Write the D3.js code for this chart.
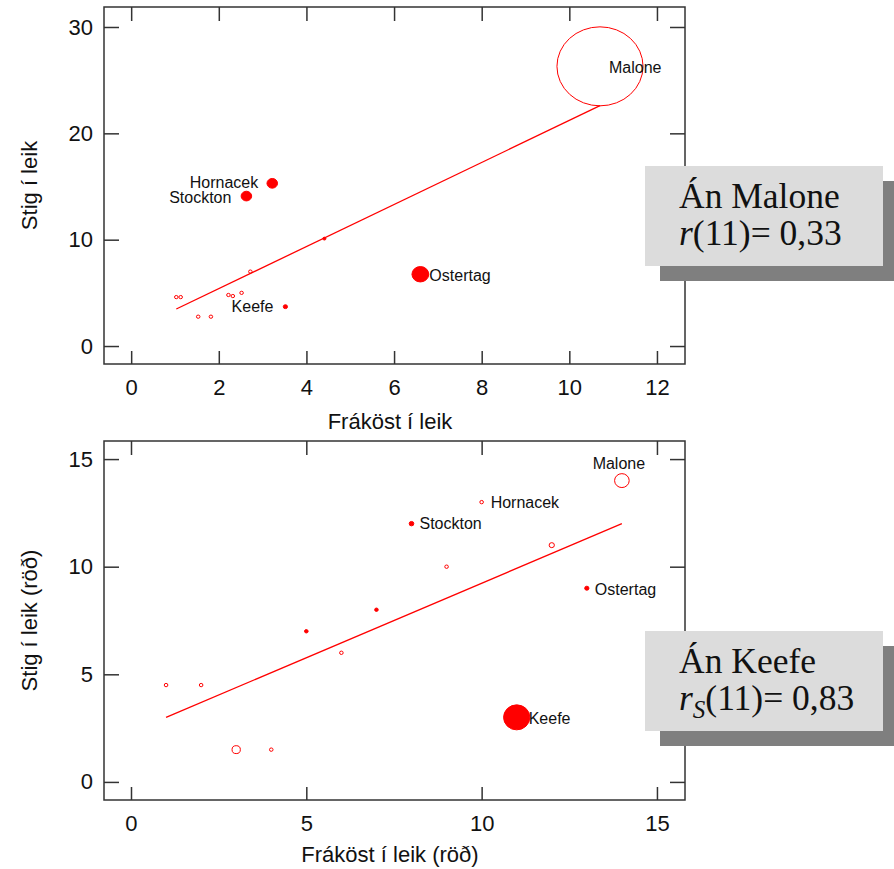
<!DOCTYPE html>
<html>
<head>
<meta charset="utf-8">
<script src="https://cdn.jsdelivr.net/npm/d3@7"></script>
<style>
  body { margin: 0; background: #fff; }
  svg { display: block; }
  .tick text { font-family: "Liberation Sans", Arial, sans-serif; font-size: 22px; fill: #111; }
  .tick line { stroke: #333; stroke-width: 1.5; }
  .domain { display: none; }
  .ttl { font-family: "Liberation Sans", Arial, sans-serif; font-size: 22px; fill: #111; }
  .lbl { font-family: "Liberation Sans", Arial, sans-serif; font-size: 16px; fill: #111; }
  .box { font-family: "Liberation Serif", "Times New Roman", serif; font-size: 35.5px; fill: #111; }
</style>
</head>
<body>
<svg id="chart" width="894" height="869"></svg>
<script>
// leikmenn (13 + einn)
var names = ['Malone', 'Ostertag', 'Hornacek', 'Stockton', 'Keefe', '', '', '', '', '', '', '', '', ''];

// efri mynd: fráköst og stig í leik
var frakost = [10.7, 6.6, 3.22, 2.63, 3.52, 4.41, 2.72, 1.03, 1.13, 2.22, 2.32, 2.52, 1.53, 1.82];
var stig    = [26.3, 6.75, 15.3, 14.1, 3.7, 10.1, 7.0, 4.6, 4.6, 4.8, 4.7, 5.0, 2.76, 2.76];
var vaegi1  = [1, 0.038, 0.015, 0.015, 0.0024, 0.0013, 0.0017, 0.0017, 0.0017, 0.0017, 0.0017, 0.0017, 0.0017, 0.0017];
var fyllt1  = [0, 1, 1, 1, 1, 1, 0, 0, 0, 0, 0, 0, 0, 0];
var fitX1 = [1.03, 10.7];
var fitY1 = [3.48, 22.6];

// neðri mynd: röð
var radX   = [14, 13, 10, 8, 11, 12, 9, 1, 2, 5, 6, 7, 3, 4];
var radY   = [14, 9, 13, 12, 3, 11, 10, 4.5, 4.5, 7, 6, 8, 1.5, 1.5];
var vaegi2 = [0.31, 0.026, 0.0185, 0.031, 1, 0.04, 0.0185, 0.0185, 0.0185, 0.0185, 0.0185, 0.0185, 0.10, 0.0185];
var fyllt2 = [0, 1, 0, 1, 1, 0, 0, 0, 0, 1, 0, 1, 0, 0];
var fitX2 = [1, 14];
var fitY2 = [3, 12];

var xTicks1 = [0, 2, 4, 6, 8, 10, 12];
var yTicks1 = [0, 10, 20, 30];
var xTicks2 = [0, 5, 10, 15];
var yTicks2 = [0, 5, 10, 15];

var svg = d3.select('#chart');
svg.append('rect').attr('width', 894).attr('height', 869).attr('fill', '#fff');

var RED = '#ff0000';

function panel(opt) {
    var x = d3.scaleLinear().domain(opt.xDom).range([104, 685]);
    var y = d3.scaleLinear().domain(opt.yDom).range([opt.bottom, opt.top]);
    var r = d3.scaleSqrt().domain([0, 1]).range([0, opt.rMax]);
    var g = svg.append('g');

    g.append('g').attr('transform', 'translate(0,' + opt.bottom + ')')
        .call(d3.axisBottom(x).tickValues(opt.xTicks).tickSize(-13).tickSizeOuter(0).tickPadding(15));
    g.append('g').attr('transform', 'translate(0,' + opt.top + ')')
        .call(d3.axisTop(x).tickValues(opt.xTicks).tickSize(-14).tickSizeOuter(0).tickFormat(''));
    g.append('g').attr('transform', 'translate(104,0)')
        .call(d3.axisLeft(y).tickValues(opt.yTicks).tickSize(-15).tickSizeOuter(0).tickPadding(11));
    g.append('g').attr('transform', 'translate(685,0)')
        .call(d3.axisRight(y).tickValues(opt.yTicks).tickSize(-15).tickSizeOuter(0).tickFormat(''));

    g.append('rect').attr('x', 104).attr('y', opt.top)
        .attr('width', 581).attr('height', opt.bottom - opt.top)
        .attr('fill', 'none').attr('stroke', '#333').attr('stroke-width', 1.5);

    g.append('line')
        .attr('x1', x(opt.fitX[0])).attr('y1', y(opt.fitY[0]))
        .attr('x2', x(opt.fitX[1])).attr('y2', y(opt.fitY[1]))
        .attr('stroke', RED).attr('stroke-width', 1.3);

    var pts = d3.range(names.length);
    g.selectAll('ellipse.pt').data(pts).enter().append('ellipse')
        .attr('class', 'pt')
        .attr('cx', function(i) { return x(opt.xs[i]); })
        .attr('cy', function(i) { return y(opt.ys[i]); })
        .attr('rx', function(i) { return r(opt.w[i]) * opt.aspect; })
        .attr('ry', function(i) { return r(opt.w[i]); })
        .attr('fill', function(i) { return opt.fill[i] ? RED : 'none'; })
        .attr('stroke', RED).attr('stroke-width', 1);

    g.selectAll('text.lbl').data(pts.filter(function(i) { return names[i]; })).enter().append('text')
        .attr('class', 'lbl')
        .attr('x', function(i) { return x(opt.xs[i]) + opt.lab[names[i]][0]; })
        .attr('y', function(i) { return y(opt.ys[i]) + opt.lab[names[i]][1]; })
        .attr('dy', '0.35em')
        .attr('text-anchor', function(i) { return opt.lab[names[i]][2]; })
        .text(function(i) { return names[i]; });

    g.append('text').attr('class', 'ttl').attr('x', 390).attr('y', opt.bottom + opt.titleGap)
        .attr('text-anchor', 'middle').text(opt.xTitle);
    g.append('text').attr('class', 'ttl')
        .attr('transform', 'translate(37,' + ((opt.top + opt.bottom) / 2) + ') rotate(-90)')
        .attr('text-anchor', 'middle').text(opt.yTitle);
}

panel({
    top: 7, bottom: 364, xDom: [-0.62, 12.64], yDom: [-1.69, 31.88],
    xTicks: xTicks1, yTicks: yTicks1, xs: frakost, ys: stig, w: vaegi1, fill: fyllt1,
    fitX: fitX1, fitY: fitY1, rMax: 39.5, aspect: 1.09, titleGap: 65,
    xTitle: 'Fráköst í leik', yTitle: 'Stig í leik',
    lab: { Malone: [9, 1, 'start'], Ostertag: [9, 1, 'start'], Hornacek: [-14, -1, 'end'],
           Stockton: [-15, 1, 'end'], Keefe: [-12, 0, 'end'] }
});

panel({
    top: 441, bottom: 800, xDom: [-0.77, 15.8], yDom: [-0.84, 15.84],
    xTicks: xTicks2, yTicks: yTicks2, xs: radX, ys: radY, w: vaegi2, fill: fyllt2,
    fitX: fitX2, fitY: fitY2, rMax: 12.5, aspect: 1.05, titleGap: 62,
    xTitle: 'Fráköst í leik (röð)', yTitle: 'Stig í leik (röð)',
    lab: { Malone: [-3, -17, 'middle'], Ostertag: [8, 1, 'start'], Hornacek: [9, 0, 'start'],
           Stockton: [8, 0, 'start'], Keefe: [12, 1, 'start'] }
});

// textakassar með skugga
function box(top, line1, rText, sub, val) {
    svg.append('rect').attr('x', 660).attr('y', top + 15).attr('width', 238).attr('height', 100).attr('fill', '#7f7f7f');
    svg.append('rect').attr('x', 645).attr('y', top).attr('width', 238).attr('height', 100).attr('fill', '#dcdcdc');
    svg.append('text').attr('class', 'box').attr('x', 679).attr('y', top + 42).text(line1);
    var t = svg.append('text').attr('class', 'box').attr('x', 679).attr('y', top + 79);
    t.append('tspan').attr('font-style', 'italic').text(rText);
    if (sub) {
        t.append('tspan').attr('font-style', 'italic').attr('font-size', 25).attr('dy', 8).text(sub);
        t.append('tspan').attr('dy', -8).text(val);
    } else {
        t.append('tspan').text(val);
    }
}
box(166, 'Án Malone', 'r', null, '(11)= 0,33');
box(631, 'Án Keefe', 'r', 'S', '(11)= 0,83');
</script>
</body>
</html>
